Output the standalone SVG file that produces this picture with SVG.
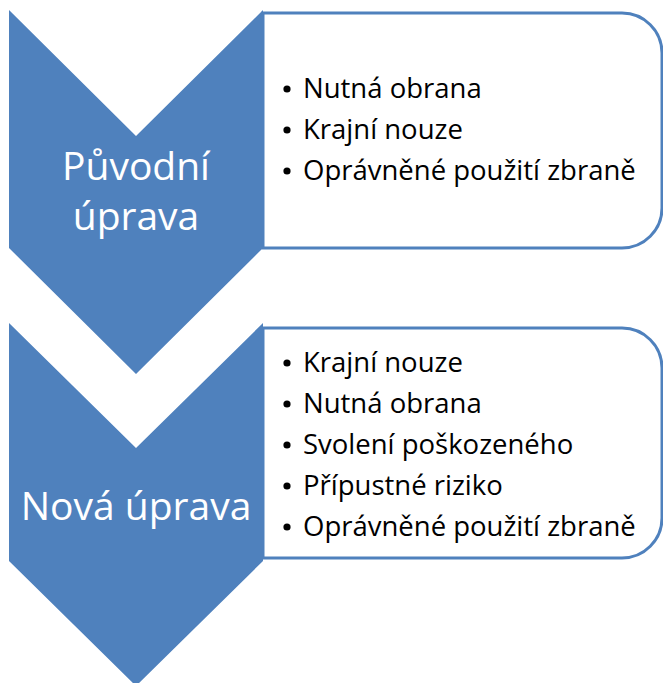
<svg xmlns="http://www.w3.org/2000/svg" width="663" height="683" viewBox="0 0 663 683">
<style>
.chev{fill:#4F81BD}
.box{fill:#fff;stroke:#4F81BD;stroke-width:3}
.t{font-family:"Open Sans","Liberation Sans",sans-serif;font-size:27.5px;fill:#000}
.b{fill:#000}
.h{font-family:"Open Sans","Liberation Sans",sans-serif;font-size:39px;fill:#fff;text-anchor:middle}
</style>
<g id="box1">
<path class="box" d="M263 13 H622 A40 40 0 0 1 662 53 V208 A40 40 0 0 1 622 248 H263 Z"/>
<g class="t">
<circle class="b" cx="287" cy="89" r="3.6"/><text x="303" y="98">Nutná obrana</text>
<circle class="b" cx="287" cy="130" r="3.6"/><text x="303" y="139">Krajní nouze</text>
<circle class="b" cx="287" cy="171" r="3.6"/><text x="303" y="180">Oprávněné použití zbraně</text>
</g>
</g>
<g id="box2">
<path class="box" d="M263 328 H622 A40 40 0 0 1 662 368 V518 A40 40 0 0 1 622 558 H263 Z"/>
<g class="t">
<circle class="b" cx="287" cy="363" r="3.6"/><text x="303" y="372">Krajní nouze</text>
<circle class="b" cx="287" cy="404" r="3.6"/><text x="303" y="413">Nutná obrana</text>
<circle class="b" cx="287" cy="445" r="3.6"/><text x="303" y="454">Svolení poškozeného</text>
<circle class="b" cx="287" cy="486" r="3.6"/><text x="303" y="495">Přípustné riziko</text>
<circle class="b" cx="287" cy="527" r="3.6"/><text x="303" y="536">Oprávněné použití zbraně</text>
</g>
</g>
<g id="chevron1">
<path class="chev" d="M9 10 L136 136 L263 10 V248 L136 374 L9 248 Z"/>
<text class="h" x="136" y="180">Původní</text>
<text class="h" x="136" y="230">úprava</text>
</g>
<g id="chevron2">
<path class="chev" d="M9 323 L136 448 L263 323 V561 L136 686 L9 561 Z"/>
<text class="h" x="136" y="520">Nová úprava</text>
</g>
<g id="connectors"></g>
</svg>
